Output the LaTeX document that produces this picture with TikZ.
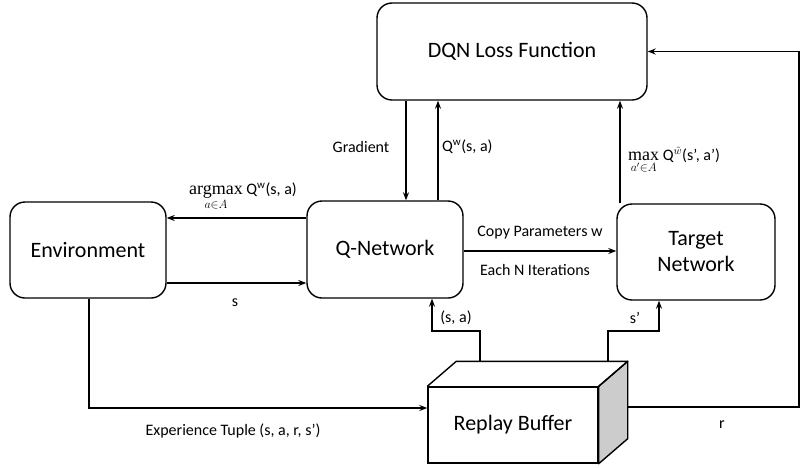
\RequirePackage{fix-cm}
\documentclass[tikz,border=0pt]{standalone}
\usepackage{amsmath}
\usepackage[no-math]{fontspec}
\setmainfont{Carlito}
\newfontfamily\opserif{Liberation Serif}
\DeclareMathSizes{16}{16}{11}{8}
\newcommand{\opname}[1]{\mathop{\hbox{\opserif\fontsize{18}{20}\selectfont #1}}}
\newcommand{\opsub}[1]{\hbox{\fontsize{12}{14}\selectfont $#1$}}
\usetikzlibrary{arrows.meta,calc}

\begin{document}
\begin{tikzpicture}[x=1pt,y=-1pt,
  blk/.style={draw, rounded corners=15pt, line width=1.4pt, align=center,
    inner sep=0pt, font=\fontsize{22}{26}\selectfont},
  lbl/.style={inner sep=0pt, font=\fontsize{16}{19}\selectfont},
  arr/.style={-{Stealth[length=8pt,width=6pt]}, line width=1.3pt},
]
\useasboundingbox (0,0) rectangle (801,467);

% main blocks
\node[blk, minimum width=270pt, minimum height=97pt] (loss)   at (512,51.5) {DQN Loss Function};
\node[blk, minimum width=156pt, minimum height=96pt] (env)    at (88,250)   {Environment};
\node[blk, minimum width=156pt, minimum height=97pt] (qnet)   at (385,249.5) {Q-Network};
\node[blk, minimum width=158pt, minimum height=96pt] (target) at (696,252)  {Target\\Network};

% replay buffer drawn as a box in perspective
\node[draw, line width=1.4pt, minimum width=170pt, minimum height=76pt, inner sep=0pt,
      font=\fontsize{22}{26}\selectfont] (buf) at (513,425) {Replay Buffer};
\coordinate (bbl) at ($(buf.north west)+(29,-25)$);
\coordinate (bbr) at ($(buf.north east)+(29,-25)$);
\coordinate (bbd) at ($(buf.south east)+(29,-25)$);
\draw[line width=1.4pt, fill=gray!40, line join=round]
  (buf.north east) -- (bbr) -- (bbd) -- (buf.south east) -- cycle;
\draw[line width=1.4pt, line join=round]
  (buf.north west) -- (bbl) -- (bbr) -- (buf.north east);

% helper coordinates for connector positions
\coordinate (xg)  at (406,0);
\coordinate (xq)  at (438,0);
\coordinate (xm)  at (620,0);
\coordinate (ya)  at (0,218);
\coordinate (ys)  at (0,283);
\coordinate (yc)  at (0,251);
\coordinate (xe)  at (89,0);
\coordinate (ye)  at (0,408);
\coordinate (xsa) at (480,0);
\coordinate (xsp) at (608,0);
\coordinate (kneeL) at (432,331);
\coordinate (kneeR) at (659,331);
\coordinate (rout) at (627,407);
\coordinate (xr)  at (799,0);

% connectors
\draw[arr] (loss.south -| xg) -- (qnet.north -| xg);
\draw[arr] (qnet.north -| xq) -- (loss.south -| xq);
\draw[arr] (target.north -| xm) -- (loss.south -| xm);
\draw[arr] (qnet.west |- ya) -- (env.east |- ya);
\draw[arr] (env.east |- ys) -- (qnet.west |- ys);
\draw[arr] (qnet.east |- yc) -- (target.west |- yc);
\draw[arr] (env.south -| xe) |- (buf.west |- ye);
\draw[arr] (bbl -| xsa) |- (kneeL) -- (qnet.south -| kneeL);
\draw[arr] (bbl -| xsp) |- (kneeR) -- (target.south -| kneeR);
\draw[arr] (rout) -| (xr |- loss.east) -- (loss.east);

% connector labels
\node[lbl] (lgrad) at (361,147) {Gradient};
\node[lbl, anchor=west] (lqw) at (442,147) {Q\textsuperscript{w}(s, a)};
\node[lbl, anchor=base west] (larg) at (189,194)
  {$\displaystyle\opname{argmax}\limits_{\opsub{a{\in}A}}$ Q\textsuperscript{w}(s, a)};
\node[lbl, anchor=base west] (lmax) at (628,160)
  {$\displaystyle\opname{max}\limits_{\opsub{a'{\in}A}}$ Q\textsuperscript{$\tilde{w}$}(s’, a’)};
\node[lbl] (ls) at (235,303) {s};
\node[lbl] (lcopy) at (540,233) {Copy Parameters w};
\node[lbl] (leach) at (535,270) {Each N Iterations};
\node[lbl] (lsa) at (456,318) {(s, a)};
\node[lbl] (lsp) at (635,318) {s'};
\node[lbl] (lexp) at (233,431) {Experience Tuple (s, a, r, s')};
\node[lbl] (lr) at (722,425) {r};
\end{tikzpicture}
\end{document}
